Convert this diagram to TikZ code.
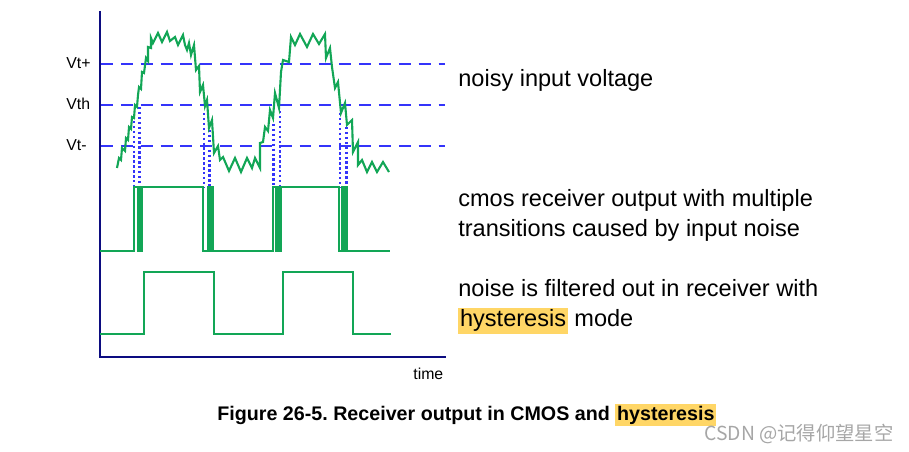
\documentclass[tikz,border=0pt]{standalone}
\usepackage{fontspec}
\setmainfont{Liberation Sans}
\setsansfont{Liberation Sans}
\newfontfamily\cjkfont{Noto Sans CJK SC}
\usepackage{tikz}
\definecolor{AxisNavy}{RGB}{12,12,128}
\definecolor{DashBlue}{RGB}{52,52,250}
\definecolor{WaveGreen}{RGB}{18,166,86}
\definecolor{HiYellow}{RGB}{255,214,102}
\setlength{\fboxsep}{1pt}
\frenchspacing

\begin{document}
\begin{tikzpicture}[
    x=0.02cm, y=-0.02cm,
    font=\sffamily,
    axis/.style={AxisNavy, line width=1.7pt},
    level/.style={DashBlue, line width=1.1pt, dash pattern=on 6.8pt off 4.5pt},
    cross/.style={DashBlue, line width=1.3pt, dash pattern=on 1.4pt off 1.4pt},
    wave/.style={WaveGreen, line width=1.2pt, line join=miter},
    vlabel/.style={anchor=base west, inner sep=0pt, font=\sffamily\fontsize{9}{11}\selectfont},
    note/.style={anchor=base west, inner sep=0pt, font=\sffamily\fontsize{13.4}{16}\selectfont},
]
\useasboundingbox (0,0) rectangle (909,452);

% --- ejes ---
\draw[axis] (100,11) -- (100,357) -- (446,357);
\node[vlabel] (time) at (413,379) {time};

% --- niveles de umbral ---
\foreach \y/\name/\txt in {64/tp/Vt+, 105/th/Vth, 146/tm/Vt-}{
    \draw[level] (101,\y) -- (445,\y);
    \node[vlabel] (\name) at (66,\y+5) {\txt};
}

% --- instantes de cruce ---
\foreach \x/\y in {134/121, 139.5/107, 204/113, 209.5/130, 273.5/124, 280/111, 340/113, 346.5/127}{
    \draw[cross] (\x,\y) -- (\x,187);
}

% --- tension de entrada ruidosa ---
\draw[wave] (117,168) -- (119,158) -- (121,160) -- (122,148) -- (125,151) -- (126,138)
    -- (128,140) -- (129,127) -- (131,129) -- (132,117) -- (134,118) -- (135,105)
    -- (137,107) -- (138,95) -- (139,87) -- (141,89) -- (142,72) -- (144,73)
    -- (146,58) -- (148,61) -- (148,47) -- (151,48) -- (151,38) -- (153,43)
    -- (158,33) -- (162,42) -- (167,32) -- (170,41) -- (175,37) -- (178,45)
    -- (183,35) -- (185,45) -- (187,50) -- (189,43) -- (191,55) -- (194,45)
    -- (196,70) -- (199,66) -- (200,92) -- (203,85) -- (205,106) -- (207,100)
    -- (209,128) -- (212,120) -- (214,153) -- (218,146) -- (220,160) -- (223,157)
    -- (229,171) -- (235,158) -- (241,172) -- (247,158) -- (252,168) -- (255,158)
    -- (260,168) -- (260,143) -- (263,142) -- (265,127) -- (268,131) -- (270,110)
    -- (273,118) -- (275,93) -- (279,108) -- (281,72) -- (283,60) -- (289,62)
    -- (291,37) -- (295,45) -- (300,34) -- (307,47) -- (313,34) -- (319,44)
    -- (325,34) -- (326,58) -- (330,48) -- (332,67) -- (335,88) -- (338,82)
    -- (341,113) -- (345,103) -- (347,125) -- (352,120) -- (353,152) -- (358,142)
    -- (358,165) -- (362,160) -- (367,172) -- (372,162) -- (377,172) -- (383,162)
    -- (389,172);

% --- salida cmos ---
\draw[wave] (100,251) -- (134,251) -- (134,187) -- (138,187) -- (138,251)
    -- (139.5,251) -- (139.5,187) -- (141,187) -- (141,251) -- (142,251) -- (142,187)
    -- (203,187) -- (203,251) -- (208,251) -- (208,187) -- (210,187) -- (210,251)
    -- (211,251) -- (211,187) -- (212.5,187) -- (212.5,251) -- (273,251) -- (273,187)
    -- (276,187) -- (276,251) -- (278,251) -- (278,187) -- (279.5,187) -- (279.5,251)
    -- (281,251) -- (281,187) -- (339,187) -- (339,251) -- (342,251) -- (342,187)
    -- (343.5,187) -- (343.5,251) -- (345,251) -- (345,187) -- (347,187) -- (347,251)
    -- (390,251);

% --- salida con histeresis ---
\draw[wave] (100,334) -- (144,334) -- (144,272) -- (214,272) -- (214,334)
    -- (283,334) -- (283,272) -- (353,272) -- (353,334) -- (391,334);

% --- textos ---
\node[note] (noisy) at (458,87) {noisy input voltage};
\node[note] (cmos1) at (458,207) {cmos receiver output with multiple};
\node[note] (cmos2) at (458,237) {transitions caused by input noise};
\node[note] (hyst1) at (458,297) {noise is filtered out in receiver with};
\node[note] (hyst2) at (458,327) {\colorbox{HiYellow}{hysteresis} mode};

\node[anchor=base west, inner sep=0pt, font=\sffamily\bfseries\fontsize{11.2}{13}\selectfont]
    (caption) at (217,420) {Figure 26-5. Receiver output in CMOS and \colorbox{HiYellow}{hysteresis}};
\node[anchor=base west, inner sep=0pt, text=black!35, font=\cjkfont\fontsize{11}{13}\selectfont]
    (mark) at (704,440) {CSDN @记得仰望星空};

\end{tikzpicture}
\end{document}
